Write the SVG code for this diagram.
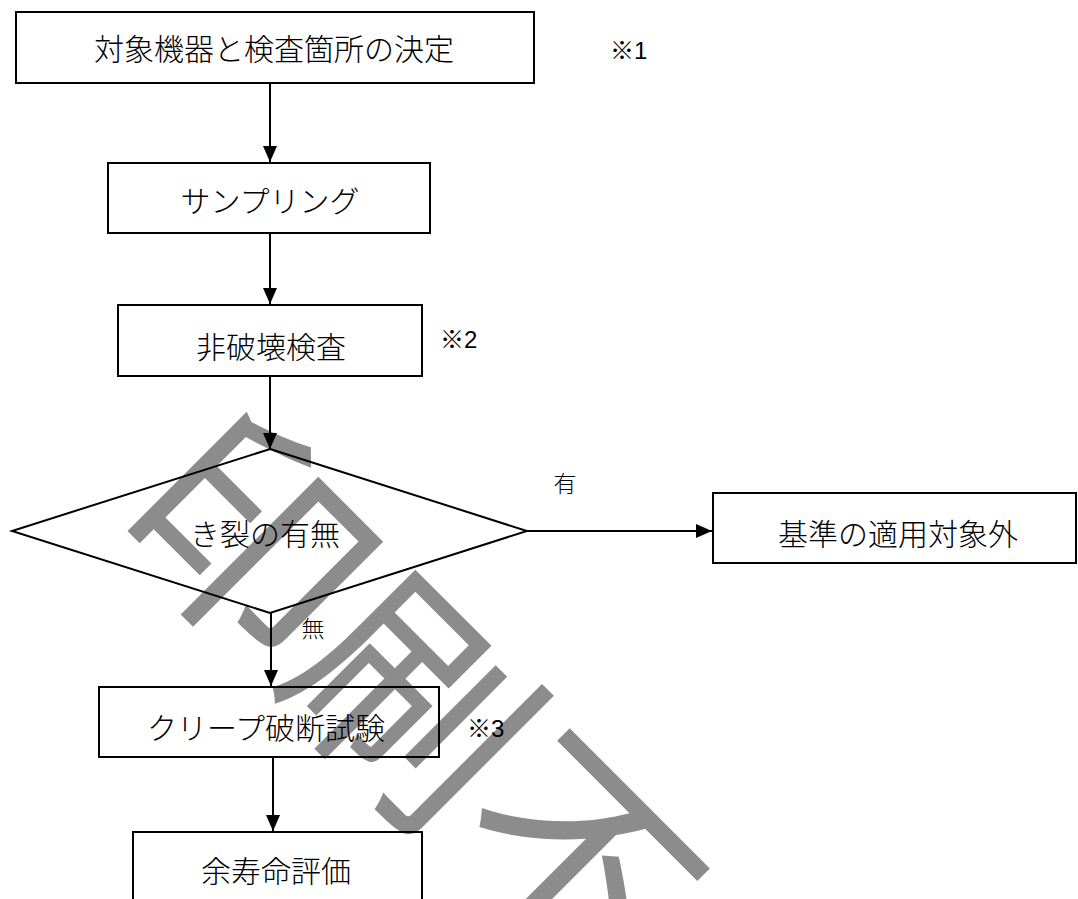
<svg xmlns="http://www.w3.org/2000/svg" width="1078" height="899" viewBox="0 0 1078 899">
<style>
.box{fill:none;stroke:#000;stroke-width:2}
.dia{fill:none;stroke:#000;stroke-width:2}
.edge{fill:none;stroke:#000;stroke-width:2}
.t{font-family:"Noto Sans CJK JP","Noto Sans CJK SC",sans-serif;font-size:30px;font-weight:300;fill:#000;text-anchor:middle}
.lbl{font-family:"Noto Sans CJK JP","Noto Sans CJK SC",sans-serif;font-size:23px;font-weight:300;fill:#000;text-anchor:middle}
.note{font-family:"Liberation Sans","Noto Sans CJK JP",sans-serif;font-size:24px;fill:#000}
.wm{font-family:"Noto Sans CJK JP","Noto Sans CJK SC",sans-serif;font-size:230px;fill:#8c8c8c}
</style>
<defs>
<marker id="ah" viewBox="0 0 16 14" refX="16" refY="7" markerWidth="16" markerHeight="14" orient="auto" markerUnits="userSpaceOnUse">
<path d="M0,0 L16,7 L0,14 z" fill="#000"/>
</marker>
</defs>
<rect width="1078" height="899" fill="#fff"/>
<g id="watermark">
<text class="wm" transform="translate(108,517) rotate(45)">印刷不</text>
</g>
<g id="connectors">
<line class="edge" x1="270" y1="83" x2="270" y2="162" marker-end="url(#ah)"/>
<line class="edge" x1="270" y1="233" x2="270" y2="304" marker-end="url(#ah)"/>
<line class="edge" x1="270" y1="376" x2="270" y2="449" marker-end="url(#ah)"/>
<line class="edge" x1="527" y1="531" x2="712" y2="531" marker-end="url(#ah)"/>
<line class="edge" x1="271" y1="613" x2="271" y2="686" marker-end="url(#ah)"/>
<line class="edge" x1="273" y1="757" x2="273" y2="831" marker-end="url(#ah)"/>
<text class="lbl" x="565" y="492">有</text>
<text class="lbl" x="313" y="637">無</text>
</g>
<g id="n1">
<rect class="box" x="16" y="12" width="518" height="71"/>
<text class="t" x="274" y="60">対象機器と検査箇所の決定</text>
</g>
<text id="note1" class="note" x="610" y="59">※1</text>
<g id="n2">
<rect class="box" x="108" y="163" width="322" height="70"/>
<text class="t" x="270" y="212">サンプリング</text>
</g>
<g id="n3">
<rect class="box" x="118" y="305" width="304" height="71"/>
<text class="t" x="271" y="358">非破壊検査</text>
</g>
<text id="note2" class="note" x="440" y="348">※2</text>
<g id="n4">
<polygon class="dia" points="270,449 527,531 270,613 12,531"/>
<text class="t" x="265" y="545">き裂の有無</text>
</g>
<g id="n5">
<rect class="box" x="713" y="493" width="363" height="70"/>
<text class="t" x="898" y="545">基準の適用対象外</text>
</g>
<g id="n6">
<rect class="box" x="99" y="687" width="340" height="70"/>
<text class="t" x="266" y="739">クリープ破断試験</text>
</g>
<text id="note3" class="note" x="467" y="737">※3</text>
<g id="n7">
<rect class="box" x="133" y="832" width="289" height="80"/>
<text class="t" x="276" y="882">余寿命評価</text>
</g>
</svg>
